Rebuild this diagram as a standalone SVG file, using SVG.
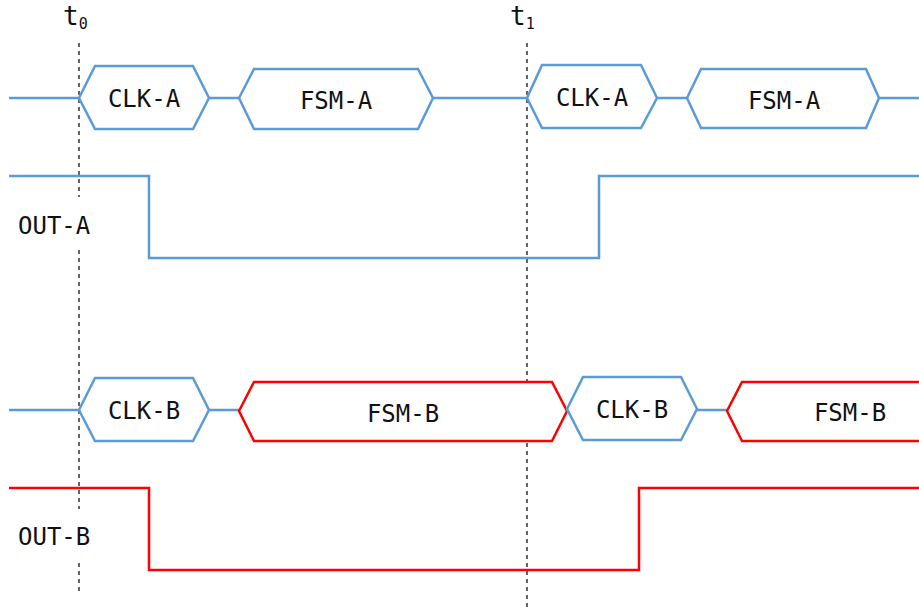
<svg xmlns="http://www.w3.org/2000/svg" width="919" height="610" viewBox="0 0 919 610">
<style>
  .txt { font-family: "DejaVu Sans Mono", "Liberation Mono", monospace; font-size: 24px; fill: #111; }
  .tl { font-family: "DejaVu Sans Mono", "Liberation Mono", monospace; font-size: 26px; fill: #111; }
  .sub { font-size: 15px; }
  .mid { text-anchor: middle; }
  .blue { fill: none; stroke: #5B9BD5; stroke-width: 2.5; stroke-linejoin: miter; }
  .red { fill: none; stroke: #FF0000; stroke-width: 2.5; stroke-linejoin: miter; }
  .hexb { fill: #fff; stroke: #5B9BD5; stroke-width: 2.5; }
  .hexr { fill: #fff; stroke: #FF0000; stroke-width: 2.5; }
  .dash { stroke: #111; stroke-width: 1.3; stroke-dasharray: 4 4; fill: none; }
</style>
<rect width="919" height="610" fill="#fff"/>

<g id="time-markers">
  <text class="tl" x="63" y="25">t<tspan class="sub" dy="4">0</tspan></text>
  <line class="dash" x1="79" y1="43" x2="79" y2="197"/>
  <line class="dash" x1="79" y1="250" x2="79" y2="509"/>
  <line class="dash" x1="79" y1="563" x2="79" y2="595"/>
  <text class="tl" x="510" y="25">t<tspan class="sub" dy="4">1</tspan></text>
  <line class="dash" x1="527" y1="43" x2="527" y2="607"/>
</g>

<g id="connectors">
  <polyline class="blue" points="9,98 79,98"/>
  <polyline class="blue" points="209,98 239,98"/>
  <polyline class="blue" points="433,98 527,98"/>
  <polyline class="blue" points="657,98 687,98"/>
  <polyline class="blue" points="879,98 919,98"/>
  <polyline class="blue" points="9,410 79,410"/>
  <polyline class="blue" points="209,410 239,410"/>
  <polyline class="blue" points="697,410 727,410"/>
</g>

<g id="clk-a-1">
  <polygon class="hexb" points="79,98 95,66 193,66 209,98 193,129 95,129"/>
  <text class="txt mid" x="144" y="107">CLK-A</text>
</g>
<g id="fsm-a-1">
  <polygon class="hexb" points="239,98 254,69 418,69 433,98 418,129 254,129"/>
  <text class="txt mid" x="336" y="109">FSM-A</text>
</g>
<g id="clk-a-2">
  <polygon class="hexb" points="527,98 542,65 641,65 657,98 641,128 542,128"/>
  <text class="txt mid" x="592" y="106">CLK-A</text>
</g>
<g id="fsm-a-2">
  <polygon class="hexb" points="687,98 701,69 866,69 879,98 866,128 701,128"/>
  <text class="txt mid" x="784" y="109">FSM-A</text>
</g>

<g id="out-a">
  <polyline class="blue" points="9,176 149,176 149,258 599,258 599,176 919,176"/>
  <text class="txt" x="18" y="234">OUT-A</text>
</g>

<g id="clk-b-1">
  <polygon class="hexb" points="79,410 95,378 193,378 209,410 193,441 95,441"/>
  <text class="txt mid" x="144" y="419">CLK-B</text>
</g>
<g id="fsm-b-1">
  <polygon class="hexr" points="239,411 254,382 552,382 567,411 552,441 254,441"/>
  <text class="txt mid" x="403" y="422">FSM-B</text>
</g>
<g id="clk-b-2">
  <polygon class="hexb" points="567,409 583,377 681,377 697,409 681,440 583,440"/>
  <text class="txt mid" x="632" y="418">CLK-B</text>
</g>
<g id="fsm-b-2">
  <polyline class="hexr" points="922,382 742,382 727,411 742,441 922,441"/>
  <text class="txt mid" x="850" y="421">FSM-B</text>
</g>

<g id="out-b">
  <polyline class="red" points="9,488 149,488 149,570 639,570 639,488 919,488"/>
  <text class="txt" x="18" y="545">OUT-B</text>
</g>
</svg>
